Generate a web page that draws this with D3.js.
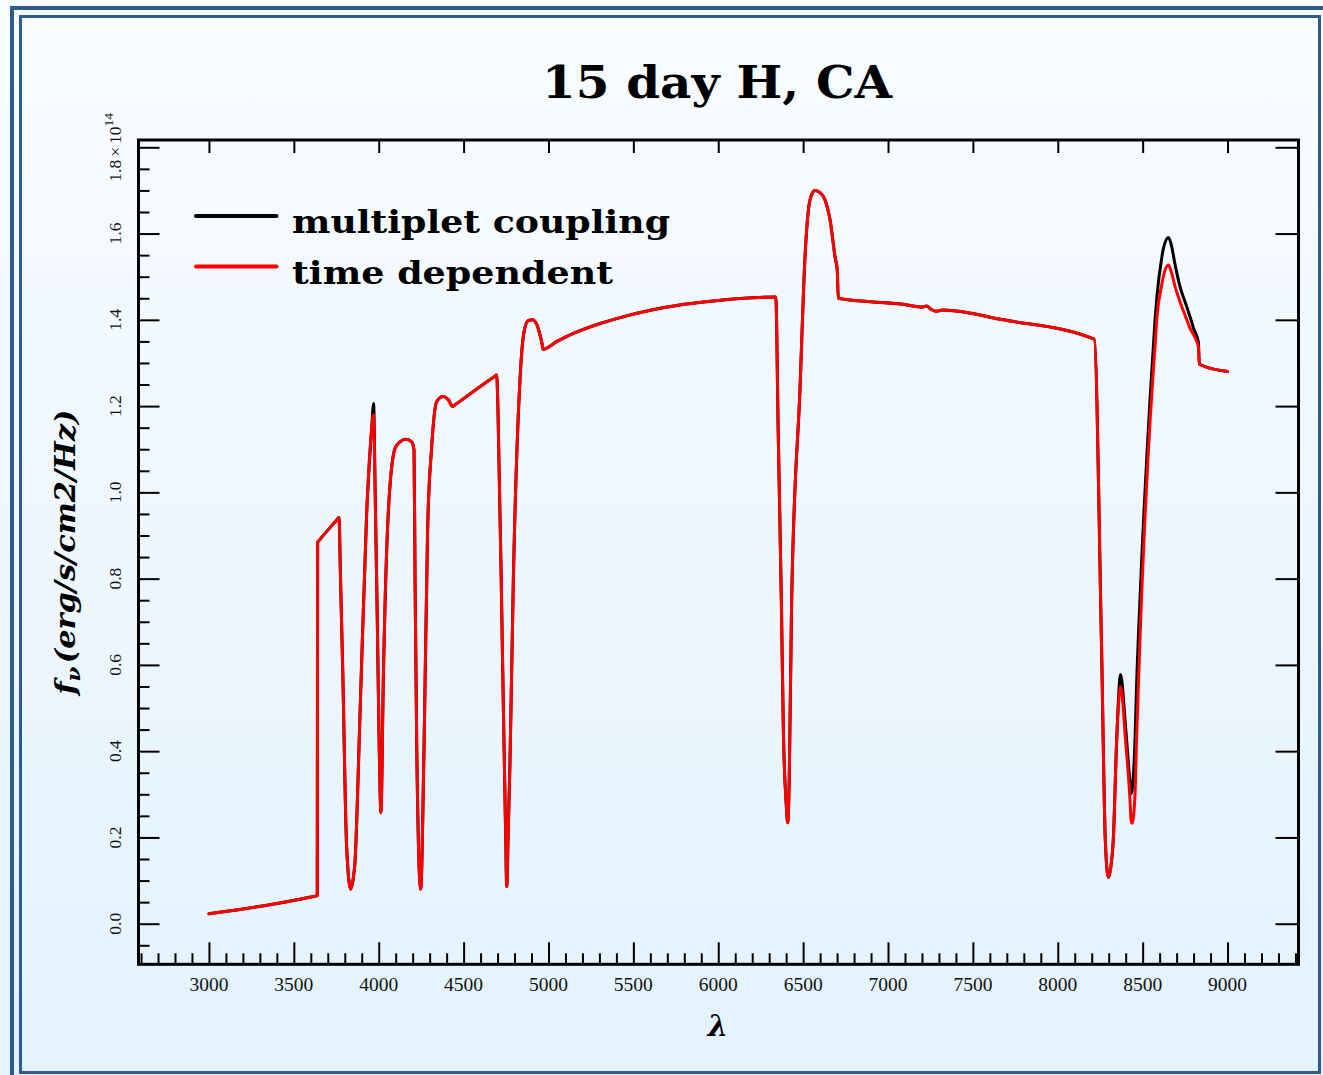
<!DOCTYPE html>
<html>
<head>
<meta charset="utf-8">
<script src="https://cdn.jsdelivr.net/npm/d3@7"></script>
<style>
  html, body { margin: 0; padding: 0; background: #f3f9fe; }
  svg { display: block; }
</style>
</head>
<body>
<svg id="chart" width="1323" height="1075"></svg>
<script>
// Synthetic spectrum, 15 days after explosion (H, CA)
const wavelength = [
  3000, 3200, 3400, 3600, 3638, 3640, 3650, 3755, 3766, 3775, 3788, 3811, 3835, 3848, 3860, 3890, 3929, 3958, 3970, 3978,
  3991, 4003, 4013, 4027, 4056, 4096, 4125, 4161, 4194, 4208, 4214, 4224, 4247, 4267, 4288, 4312,
  4341, 4380, 4410, 4436, 4450, 4680, 4695, 4702, 4730, 4748, 4754, 4762, 4773, 4793, 4832, 4855, 4880, 4905,
  4930, 4950, 4962, 4968, 5050, 5150, 5300, 5450, 5600, 5800, 6000, 6200, 6339, 6353, 6372, 6384, 6400, 6409, 6418,
  6432, 6482, 6511, 6531, 6550, 6570, 6600, 6629, 6659, 6688, 6701, 6707, 7089, 7207, 7227, 7255,
  7286, 7325, 7679, 8215, 8257, 8280, 8298, 8312, 8327, 8347, 8370, 8399, 8425, 8432, 8438, 8455,
  8464, 8484, 8544, 8573, 8583, 8612, 8622, 8652, 8668, 8691, 8720, 8760, 8779, 8800, 8828, 8834, 9000
];

// f_nu in units of 1e14 erg/s/cm2/Hz
const fluxMultiplet = [
  0.023, 0.034, 0.047, 0.062, 0.065, 0.884, 0.889, 0.937, 0.942, 0.800, 0.588, 0.178, 0.080, 0.100, 0.141, 0.488, 0.952, 1.145, 1.206, 1.030,
  0.720, 0.410, 0.257, 0.565, 0.950, 1.102, 1.117, 1.123, 1.117, 1.098, 0.797, 0.410, 0.080, 0.410, 0.913, 1.106,
  1.210, 1.222, 1.215, 1.199, 1.203, 1.268, 1.272, 1.200, 0.600, 0.200, 0.086, 0.200, 0.372, 0.797, 1.260, 1.370, 1.398, 1.400,
  1.390, 1.365, 1.345, 1.332, 1.350, 1.369, 1.391, 1.408, 1.422, 1.436, 1.445, 1.451, 1.453, 1.145, 0.742, 0.440, 0.280, 0.234, 0.330,
  0.742, 1.245, 1.546, 1.655, 1.690, 1.700, 1.695, 1.678, 1.631, 1.546, 1.515, 1.450, 1.436, 1.430, 1.432, 1.424,
  1.420, 1.423, 1.400, 1.355, 0.658, 0.194, 0.107, 0.130, 0.194, 0.426, 0.578, 0.458, 0.330, 0.302, 0.310, 0.426,
  0.550, 0.750, 1.220, 1.400, 1.450, 1.543, 1.565, 1.591, 1.575, 1.528, 1.477, 1.430, 1.407, 1.380, 1.349, 1.297, 1.280
];

const fluxTimeDependent = [
  0.023, 0.034, 0.047, 0.062, 0.065, 0.884, 0.889, 0.937, 0.942, 0.800, 0.588, 0.178, 0.080, 0.100, 0.141, 0.488, 0.952, 1.145, 1.180, 1.020,
  0.720, 0.410, 0.257, 0.565, 0.950, 1.102, 1.117, 1.123, 1.117, 1.098, 0.797, 0.410, 0.080, 0.410, 0.913, 1.106,
  1.210, 1.222, 1.215, 1.199, 1.203, 1.268, 1.272, 1.200, 0.600, 0.200, 0.086, 0.200, 0.372, 0.797, 1.260, 1.370, 1.398, 1.400,
  1.390, 1.365, 1.345, 1.332, 1.350, 1.369, 1.391, 1.408, 1.422, 1.436, 1.445, 1.451, 1.453, 1.145, 0.742, 0.440, 0.280, 0.234, 0.330,
  0.742, 1.245, 1.546, 1.655, 1.690, 1.700, 1.695, 1.678, 1.631, 1.546, 1.515, 1.450, 1.436, 1.430, 1.432, 1.424,
  1.420, 1.423, 1.400, 1.355, 0.658, 0.194, 0.107, 0.130, 0.194, 0.426, 0.549, 0.426, 0.290, 0.240, 0.233, 0.300,
  0.426, 0.658, 1.168, 1.340, 1.400, 1.480, 1.501, 1.527, 1.512, 1.477, 1.442, 1.400, 1.380, 1.365, 1.338, 1.297, 1.280
];

const seriesNames = ["multiplet coupling", "time dependent"];
const seriesColors = ["#000000", "#ff0000"];

const xTickValues = [3000, 3500, 4000, 4500, 5000, 5500, 6000, 6500, 7000, 7500, 8000, 8500, 9000];
const yTickValues = [0.0, 0.2, 0.4, 0.6, 0.8, 1.0, 1.2, 1.4, 1.6, 1.8];
const yTickLabels = ["0.0", "0.2", "0.4", "0.6", "0.8", "1.0", "1.2", "1.4", "1.6", "1.8"];

const W = 1323, H = 1075;
const plot = { left: 138.5, right: 1298.5, top: 140, bottom: 964.3 };

const svg = d3.select("#chart");

// Page background and double frame
const defs = svg.append("defs");
const grad = defs.append("linearGradient").attr("id", "bg").attr("x1", 0).attr("y1", 0).attr("x2", 0).attr("y2", 1);
grad.append("stop").attr("offset", "0%").attr("stop-color", "#f8fcff");
grad.append("stop").attr("offset", "100%").attr("stop-color", "#e3f2fd");
svg.append("rect").attr("x", 0).attr("y", 0).attr("width", W).attr("height", H).attr("fill", "url(#bg)");

svg.append("rect").attr("x", 12).attr("y", 8).attr("width", 1316).attr("height", 1073)
  .attr("fill", "none").attr("stroke", "#2c5d8e").attr("stroke-width", 4);
svg.append("rect").attr("x", 20.5).attr("y", 16.5).attr("width", 1299).attr("height", 1056)
  .attr("fill", "none").attr("stroke", "#2c5d8e").attr("stroke-width", 3);

// Scales
const x = d3.scaleLinear().domain([2585, 9418]).range([plot.left, plot.right]);
const y = d3.scaleLinear().domain([-0.0941, 1.8169]).range([plot.bottom, plot.top]);

const serif = "'Liberation Serif', 'DejaVu Serif', serif";
const boldSerif = "'DejaVu Serif', serif";

// Title
svg.append("text")
  .attr("x", 717).attr("y", 98)
  .attr("text-anchor", "middle")
  .attr("font-family", boldSerif).attr("font-weight", "bold").attr("font-size", 45)
  .attr("textLength", 350).attr("lengthAdjust", "spacingAndGlyphs")
  .attr("fill", "#000")
  .text("15 day H, CA");

// Axes: ticks pointing inward
const axesG = svg.append("g").attr("class", "axes");
const minorX = d3.range(2600, 9401, 100).filter(v => v % 500 !== 0);
const minorY = d3.range(-1, 37).map(k => +(k * 0.05).toFixed(2)).filter((v, i) => (i - 1) % 4 !== 0);

function styleAxis(g) {
  g.select(".domain").remove();
  g.selectAll(".tick line").attr("stroke", "#000").attr("stroke-width", 2);
  g.selectAll(".tick text").remove();
}

// bottom
axesG.append("g").attr("transform", `translate(0,${plot.bottom})`)
  .call(d3.axisBottom(x).tickValues(xTickValues).tickSize(-22).tickFormat("")).call(styleAxis);
axesG.append("g").attr("transform", `translate(0,${plot.bottom})`)
  .call(d3.axisBottom(x).tickValues(minorX).tickSize(-11).tickFormat("")).call(styleAxis);
// top
axesG.append("g").attr("transform", `translate(0,${plot.top})`)
  .call(d3.axisTop(x).tickValues(xTickValues).tickSize(-13).tickFormat("")).call(styleAxis);
// left
axesG.append("g").attr("transform", `translate(${plot.left},0)`)
  .call(d3.axisLeft(y).tickValues(yTickValues).tickSize(-21).tickFormat("")).call(styleAxis);
axesG.append("g").attr("transform", `translate(${plot.left},0)`)
  .call(d3.axisLeft(y).tickValues(minorY).tickSize(-11).tickFormat("")).call(styleAxis);
// right
axesG.append("g").attr("transform", `translate(${plot.right},0)`)
  .call(d3.axisRight(y).tickValues(yTickValues).tickSize(-23).tickFormat("")).call(styleAxis);

// Plot frame
axesG.append("rect")
  .attr("x", plot.left).attr("y", plot.top)
  .attr("width", plot.right - plot.left).attr("height", plot.bottom - plot.top)
  .attr("fill", "none").attr("stroke", "#000").attr("stroke-width", 3);

// X tick labels
svg.append("g").selectAll("text").data(xTickValues).join("text")
  .attr("x", d => x(d)).attr("y", 991)
  .attr("text-anchor", "middle")
  .attr("font-family", serif).attr("font-size", 19.5)
  .attr("fill", "#111")
  .text(d => d);

// Y tick labels (rotated); the top one carries the 1e14 multiplier
const yLab = svg.append("g").selectAll("text").data(yTickValues).join("text")
  .attr("transform", d => `translate(120.5,${y(d)}) rotate(-90)`)
  .attr("text-anchor", "middle")
  .attr("font-family", serif).attr("font-size", 17.5)
  .attr("fill", "#111");
yLab.each(function(d, i) {
  const t = d3.select(this);
  if (i === yTickValues.length - 1) {
    t.append("tspan").text(yTickLabels[i]);
    t.append("tspan").attr("dx", 3).text("\u00d7");
    t.append("tspan").attr("dx", 3).text("10");
    t.append("tspan").attr("font-size", 13.5).attr("dy", -8).text("14");
  } else {
    t.text(yTickLabels[i]);
  }
});

// Axis titles
svg.append("text")
  .attr("x", 718).attr("y", 1036)
  .attr("text-anchor", "middle")
  .attr("font-family", boldSerif).attr("font-weight", "bold").attr("font-style", "italic")
  .attr("font-size", 29)
  .text("\u03bb");

const yTitle = svg.append("text")
  .attr("transform", "translate(75,552) rotate(-90)")
  .attr("text-anchor", "middle")
  .attr("font-family", boldSerif).attr("font-weight", "bold").attr("font-style", "italic")
  .attr("font-size", 27)
  .attr("textLength", 285).attr("lengthAdjust", "spacingAndGlyphs");
yTitle.append("tspan").text("f");
yTitle.append("tspan").attr("font-size", 19).attr("dy", 5).text("\u03bd");
yTitle.append("tspan").attr("dy", -5).attr("dx", 3).text("(erg/s/cm2/Hz)");

// Spectra
const rows = wavelength.map((w, i) => ({ w, a: fluxMultiplet[i], b: fluxTimeDependent[i] }));
const lineA = d3.line().x(d => x(d.w)).y(d => y(d.a)).curve(d3.curveMonotoneX);
const lineB = d3.line().x(d => x(d.w)).y(d => y(d.b)).curve(d3.curveMonotoneX);

svg.append("path").datum(rows).attr("d", lineA)
  .attr("fill", "none").attr("stroke", seriesColors[0]).attr("stroke-width", 3)
  .attr("stroke-linejoin", "round").attr("stroke-linecap", "round");
svg.append("path").datum(rows).attr("d", lineB)
  .attr("fill", "none").attr("stroke", seriesColors[1]).attr("stroke-width", 3)
  .attr("stroke-linejoin", "round").attr("stroke-linecap", "round");

// Legend
const legendY = [216, 266.5];
const legendTextLen = [378, 321];
const legend = svg.append("g");
seriesNames.forEach((name, i) => {
  legend.append("line")
    .attr("x1", 196).attr("x2", 276.5).attr("y1", legendY[i]).attr("y2", legendY[i])
    .attr("stroke", seriesColors[i]).attr("stroke-width", 4).attr("stroke-linecap", "round");
  legend.append("text")
    .attr("x", 292).attr("y", legendY[i] + 17)
    .attr("font-family", boldSerif).attr("font-weight", "bold").attr("font-size", 32)
    .attr("textLength", legendTextLen[i]).attr("lengthAdjust", "spacingAndGlyphs")
    .attr("fill", "#000")
    .text(name);
});
</script>
</body>
</html>
